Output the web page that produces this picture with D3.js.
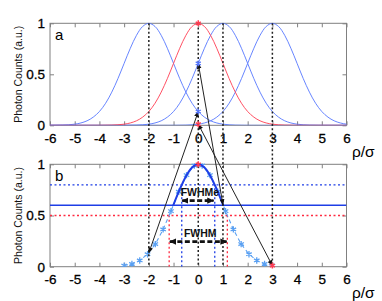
<!DOCTYPE html>
<html><head><meta charset="utf-8">
<script src="https://cdn.jsdelivr.net/npm/d3@7/dist/d3.min.js"></script>
<style>
html,body{margin:0;padding:0;background:#fff;}
svg{display:block;font-family:"Liberation Sans",Arial,sans-serif;}
</style></head>
<body><svg id="c" width="382" height="301"></svg>
<script>
// ---------- data ----------
const xTicks = [-6,-5,-4,-3,-2,-1,0,1,2,3,4,5,6];
const yTicks = [0, 0.5, 1];
const yTickLabels = ["0", "0.5", "1"];
// point-spread profile (offset from emitter, counts)
const profileDx = [-9,-4.5,-4,-3.75,-3.5,-3.25,-3,-2.75,-2.5,-2.25,-2,-1.75,-1.5,-1.25,-1,-0.75,-0.5,-0.25,0,0.25,0.5,0.75,1,1.25,1.5,1.75,2,2.25,2.5,2.75,3,3.25,3.5,3.75,4,4.5,9];
const profileY  = [0,0,0.0003,0.001,0.002,0.005,0.011,0.023,0.044,0.080,0.135,0.216,0.325,0.458,0.607,0.755,0.882,0.969,1,0.969,0.882,0.755,0.607,0.458,0.325,0.216,0.135,0.080,0.044,0.023,0.011,0.005,0.002,0.001,0.0003,0,0];
const blueCenters = [-2, 1, 3];
const redCenter = 0;
const markerLevels = [0.135, 0.607, 0.011];   // counts at x=0 from each blue emitter
const guideX = [-2, 0, 1, 3];
// panel b
const sampleX = [-3,-2.684,-2.368,-2.053,-1.737,-1.421,-1.105,-0.789,-0.474,-0.158,0.158,0.474,0.789,1.105,1.421,1.737,2.053,2.368,2.684,3];
const sampleY = [0.011,0.027,0.061,0.122,0.221,0.364,0.543,0.732,0.894,0.988,0.988,0.894,0.732,0.543,0.364,0.221,0.122,0.061,0.027,0.011];
const topX = [-1.01,-0.75,-0.5,-0.25,0,0.25,0.5,0.75,1.01];
const topY = [0.6,0.755,0.882,0.969,1,0.969,0.882,0.755,0.6];
const threshold = 0.6, halfMaxE = 0.8, halfMax = 0.5;
const fwhmEHalf = 0.668, fwhmHalf = 1.177;
const fwhmEArrow = {x0:-0.65, x1:0.62, y:0.645};
const fwhmArrow = {x0:-1.15, x1:1.15, y:0.245};

// ---------- layout ----------
const svg = d3.select("#c");
const L = 50, R = 346.5;
const panels = [{top:23.3, bot:125.3, label:"a", lblY:143, rhoY:156.5},
                {top:164.3, bot:266.7, label:"b", lblY:283, rhoY:298}];
const x = d3.scaleLinear().domain([-6,6]).range([L,R]);
const ys = panels.map(p => d3.scaleLinear().domain([0,1]).range([p.bot,p.top]));

const cBlue="#5677ff", cRed="#ff3d52", cDark="#1e3ee6", cLight="#5aa0f2", cFrame="#808080";

const defs = svg.append("defs");
panels.forEach((p,i)=>{
  defs.append("clipPath").attr("id","clip"+i).append("rect")
    .attr("x",L).attr("y",p.top-1).attr("width",R-L).attr("height",p.bot-p.top+1);
});
defs.append("marker").attr("id","ah").attr("viewBox","0 0 10 10").attr("refX",9).attr("refY",5)
  .attr("markerWidth",6).attr("markerHeight",6).attr("orient","auto-start-reverse")
  .attr("markerUnits","userSpaceOnUse")
  .append("path").attr("d","M0,1 L10,5 L0,9 Z").attr("fill","#111");
defs.append("marker").attr("id","ah2").attr("viewBox","0 0 10 10").attr("refX",9).attr("refY",5)
  .attr("markerWidth",7).attr("markerHeight",7).attr("orient","auto-start-reverse")
  .attr("markerUnits","userSpaceOnUse")
  .append("path").attr("d","M0,0.5 L10,5 L0,9.5 Z").attr("fill","#111");

// axes / frames
panels.forEach((p,i)=>{
  const y = ys[i];
  const g = svg.append("g");
  g.append("rect").attr("x",L).attr("y",p.top).attr("width",R-L).attr("height",p.bot-p.top)
    .attr("fill","none").attr("stroke",cFrame).attr("stroke-width",1);
  const bx = g.append("g").attr("transform",`translate(0,${p.bot})`)
    .call(d3.axisBottom(x).tickValues(xTicks).tickSize(-4).tickPadding(8).tickFormat(d3.format("d")));
  const tx = g.append("g").attr("transform",`translate(0,${p.top})`)
    .call(d3.axisTop(x).tickValues(xTicks).tickSize(-4).tickFormat(""));
  const ly = g.append("g").attr("transform",`translate(${L},0)`)
    .call(d3.axisLeft(y).tickValues(yTicks).tickSize(-4).tickPadding(5).tickFormat((d,k)=>yTickLabels[k]));
  const ry = g.append("g").attr("transform",`translate(${R},0)`)
    .call(d3.axisRight(y).tickValues(yTicks).tickSize(-4).tickFormat(""));
  [bx,tx,ly,ry].forEach(a=>{
    a.select(".domain").remove();
    a.selectAll(".tick line").attr("stroke",cFrame);
    a.selectAll("text").attr("font-size",13.5).attr("fill","#000").attr("stroke","#000").attr("stroke-width",0.3)
      .attr("font-family","'Liberation Sans',Arial,sans-serif");
  });
  bx.selectAll("text").text(d=>d<0? "-"+Math.abs(d) : d);
  g.append("text").attr("x",55).attr("y",p.top+17).attr("font-size",15).attr("fill","#000").text(p.label);
  g.append("text").attr("transform",`translate(21.5,${(p.top+p.bot)/2}) rotate(-90)`)
    .attr("text-anchor","middle").attr("font-size",10.5).attr("fill","#111").text("Photon Counts (a.u.)");
  g.append("text").attr("x",352).attr("y",p.rhoY).attr("font-size",15.5).attr("fill","#000").text("ρ/σ");
});

// ---------- panel a ----------
const ya = ys[0], yb = ys[1];
const ga = svg.append("g").attr("clip-path","url(#clip0)");
const lineA = d3.line().curve(d3.curveCatmullRom).x(d=>x(d[0])).y(d=>ya(d[1]));
blueCenters.forEach(c=>{
  ga.append("path").datum(profileDx.map((dx,k)=>[c+dx, profileY[k]]))
    .attr("d",lineA).attr("fill","none").attr("stroke",cBlue).attr("stroke-width",0.9);
});
ga.append("path").datum(profileDx.map((dx,k)=>[redCenter+dx, profileY[k]]))
  .attr("d",lineA).attr("fill","none").attr("stroke",cRed).attr("stroke-width",0.9);

// ---------- panel b ----------
const gb = svg.append("g").attr("clip-path","url(#clip1)");
gb.append("line").attr("x1",L).attr("x2",R).attr("y1",yb(halfMaxE)).attr("y2",yb(halfMaxE))
  .attr("stroke",cDark).attr("stroke-width",1.3).attr("stroke-dasharray","2,2.5");
gb.append("line").attr("x1",L).attr("x2",R).attr("y1",yb(threshold)).attr("y2",yb(threshold))
  .attr("stroke",cDark).attr("stroke-width",1.5);
gb.append("line").attr("x1",L).attr("x2",R).attr("y1",yb(halfMax)).attr("y2",yb(halfMax))
  .attr("stroke","#ff2a40").attr("stroke-width",1.3).attr("stroke-dasharray","2,2.5");
[-fwhmHalf, fwhmHalf].forEach(v=>{
  gb.append("line").attr("x1",x(v)).attr("x2",x(v)).attr("y1",yb(0)).attr("y2",yb(halfMax))
    .attr("stroke","#ff2a40").attr("stroke-width",1.3).attr("stroke-dasharray","2,2.5");
});
[-fwhmEHalf, fwhmEHalf].forEach(v=>{
  gb.append("line").attr("x1",x(v)).attr("x2",x(v)).attr("y1",yb(0)).attr("y2",yb(halfMaxE))
    .attr("stroke",cDark).attr("stroke-width",1.3).attr("stroke-dasharray","2,2.5");
});
const lineB = d3.line().x(d=>x(d[0])).y(d=>yb(d[1]));
gb.append("path").datum(sampleX.map((v,k)=>[v,sampleY[k]])).attr("d",lineB)
  .attr("fill","none").attr("stroke",cLight).attr("stroke-width",1.1).attr("stroke-dasharray","4,3");
const star = d3.symbol(d3.symbolAsterisk, 28);
gb.selectAll(".smp").data(sampleX).join("path").attr("class","smp")
  .attr("transform",(d,k)=>`translate(${x(d)},${yb(sampleY[k])})`)
  .attr("d",star).attr("fill","none").attr("stroke",cLight).attr("stroke-width",1.3);
gb.append("path").datum(topX.map((v,k)=>[v,topY[k]]))
  .attr("d",d3.line().curve(d3.curveCatmullRom).x(d=>x(d[0])).y(d=>yb(d[1])))
  .attr("fill","none").attr("stroke",cDark).attr("stroke-width",2);

// FWHM arrows
[[fwhmEArrow,"FWHMe"],[fwhmArrow,"FWHM"]].forEach(([a,t])=>{
  svg.append("line").attr("x1",x(a.x0)).attr("x2",x(a.x1)).attr("y1",yb(a.y)).attr("y2",yb(a.y))
    .attr("stroke","#111").attr("stroke-width",2.6).attr("stroke-dasharray","5,2.5")
    .attr("marker-start","url(#ah2)").attr("marker-end","url(#ah2)");
  svg.append("text").attr("x",x((a.x0+a.x1)/2)+2).attr("y",yb(a.y)-5).attr("text-anchor","middle")
    .attr("font-size",10.5).attr("font-weight","bold").attr("fill","#111").text(t);
});

// ---------- shared guides ----------
guideX.forEach(v=>{
  svg.append("line").attr("x1",x(v)).attr("x2",x(v)).attr("y1",panels[0].top).attr("y2",panels[1].bot)
    .attr("stroke","#222").attr("stroke-width",1.5).attr("stroke-dasharray","2,2.2");
});
// transfer arrows from panel a (x=0) to panel b (emitter position)
blueCenters.forEach((c,k)=>{
  svg.append("line").attr("x1",x(c)).attr("y1",yb(markerLevels[k])).attr("x2",x(0)).attr("y2",ya(markerLevels[k]))
    .attr("stroke","#222").attr("stroke-width",1)
    .attr("marker-start","url(#ah)").attr("marker-end","url(#ah)");
});
// markers
const smallStar = d3.symbol(d3.symbolAsterisk, 24);
[[0,ya(markerLevels[0]),cBlue],[0,ya(markerLevels[1]),cBlue]].forEach(([vx,py,col])=>{
  svg.append("path").attr("transform",`translate(${x(vx)},${py})`).attr("d",smallStar)
    .attr("fill","none").attr("stroke",col).attr("stroke-width",1.3);
});
[[0,ya(1)],[0,ya(markerLevels[2])],[0,yb(1)],[3,yb(markerLevels[2])]].forEach(([vx,py])=>{
  svg.append("path").attr("transform",`translate(${x(vx)},${py})`).attr("d",smallStar)
    .attr("fill","none").attr("stroke",cRed).attr("stroke-width",1.5);
});
</script></body></html>
